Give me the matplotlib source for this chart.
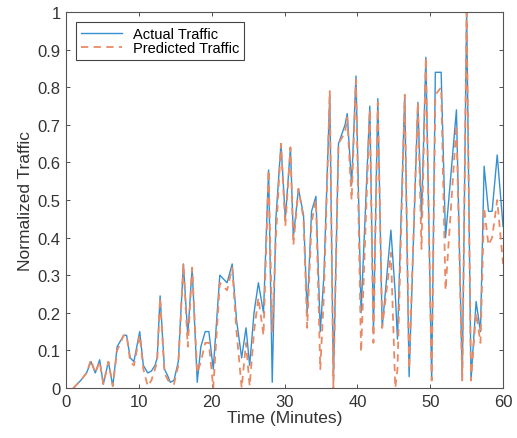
import numpy as np
import matplotlib
matplotlib.use('Agg')
import matplotlib.pyplot as plt
from matplotlib.ticker import FuncFormatter

plt.rcParams['font.family'] = ['Liberation Sans', 'DejaVu Sans']

# Время (минуты) и значения трафика
time_min = [1.0, 2.0, 2.8, 3.4, 4.0, 4.6, 5.1, 5.8, 6.4, 7.0, 7.9, 8.3, 8.8, 9.3,
            10.1, 10.6, 11.2, 11.7, 12.2, 12.5, 12.9, 13.5, 14.0, 14.3, 14.8, 15.4,
            16.1, 16.7, 17.3, 18.0, 18.5, 19.1, 19.6, 20.2, 21.1, 22.1, 22.8, 23.4,
            24.1, 24.7, 25.2, 25.8, 26.4, 27.1, 27.8, 28.3, 28.8, 29.5, 30.1, 30.8,
            31.2, 31.9, 32.6, 33.1, 33.7, 34.3, 34.9, 35.4, 36.2, 36.7, 37.4, 38.3,
            38.6, 39.2, 39.8, 40.5, 41.7, 42.2, 42.8, 43.4, 44.6, 45.2, 45.5, 46.5,
            47.1, 48.3, 48.8, 49.4, 50.2, 50.7, 51.5, 52.1, 53.6, 54.4, 55.0, 55.6,
            56.3, 56.9, 57.4, 58.0, 58.5, 59.2, 60.0]

actual = [0.00, 0.02, 0.04, 0.07, 0.04, 0.075, 0.01, 0.07, 0.005, 0.11, 0.14, 0.14, 0.08, 0.07,
          0.15, 0.06, 0.04, 0.045, 0.06, 0.08, 0.245, 0.05, 0.03, 0.015, 0.02, 0.07,
          0.33, 0.14, 0.32, 0.015, 0.11, 0.15, 0.15, 0.05, 0.30, 0.28, 0.33, 0.18,
          0.08, 0.16, 0.06, 0.20, 0.28, 0.20, 0.58, 0.015, 0.45, 0.65, 0.45, 0.64,
          0.40, 0.53, 0.46, 0.20, 0.47, 0.51, 0.15, 0.30, 0.78, 0.02, 0.65, 0.70,
          0.73, 0.54, 0.83, 0.20, 0.75, 0.15, 0.77, 0.16, 0.42, 0.25, 0.13, 0.78,
          0.03, 0.76, 0.45, 0.88, 0.02, 0.84, 0.84, 0.40, 0.74, 0.02, 1.00, 0.02,
          0.23, 0.15, 0.59, 0.47, 0.47, 0.62, 0.43]

predicted = [0.00, 0.02, 0.04, 0.075, 0.04, 0.07, 0.01, 0.07, 0.005, 0.10, 0.14, 0.14, 0.07, 0.06,
             0.14, 0.05, 0.005, 0.02, 0.05, 0.07, 0.24, 0.04, 0.02, 0.015, 0.01, 0.06,
             0.33, 0.11, 0.32, 0.04, 0.07, 0.12, 0.12, 0.00, 0.28, 0.26, 0.32, 0.15,
             0.00, 0.12, 0.005, 0.15, 0.24, 0.14, 0.58, 0.15, 0.40, 0.65, 0.43, 0.64,
             0.38, 0.53, 0.45, 0.16, 0.44, 0.50, 0.05, 0.25, 0.79, 0.00, 0.65, 0.68,
             0.72, 0.50, 0.82, 0.095, 0.74, 0.12, 0.76, 0.16, 0.36, 0.00, 0.05, 0.78,
             0.05, 0.76, 0.37, 0.88, 0.02, 0.78, 0.80, 0.26, 0.70, 0.02, 1.00, 0.02,
             0.20, 0.12, 0.48, 0.38, 0.40, 0.50, 0.33]

fig = plt.figure(figsize=(5.17, 4.39), dpi=100)
ax = fig.add_axes([0.128, 0.114, 0.845, 0.856])

ax.plot(time_min, actual, color='#3590d2', linewidth=1.0, label='Actual Traffic')
ax.plot(time_min, predicted, color='#ea8a64', linewidth=1.3, linestyle=(0, (4, 3)),
        label='Predicted Traffic')

ax.set_xlim(0, 60)
ax.set_ylim(0, 1)
ax.set_xticks(np.arange(0, 61, 10))
ax.set_yticks(np.arange(0, 1.01, 0.1))
ax.yaxis.set_major_formatter(FuncFormatter(lambda v, p: f'{v:g}'))

ax.tick_params(direction='in', top=True, right=True, length=3, width=0.6,
               labelsize=12, colors='#333333', pad=4)
for s in ax.spines.values():
    s.set_color('#555555')
    s.set_linewidth(0.8)

ax.set_xlabel('Time (Minutes)', fontsize=12.5, color='#333333', labelpad=1)
ax.set_ylabel('Normalized Traffic', fontsize=12.5, color='#333333', labelpad=3)

leg = ax.legend(loc='upper left', fontsize=10.5, fancybox=False, framealpha=1,
                edgecolor='#444444', borderpad=0.3, handlelength=2.8,
                labelspacing=0.05, borderaxespad=0.7)
leg.get_frame().set_linewidth(0.8)

fig.savefig('out.png', dpi=100)
